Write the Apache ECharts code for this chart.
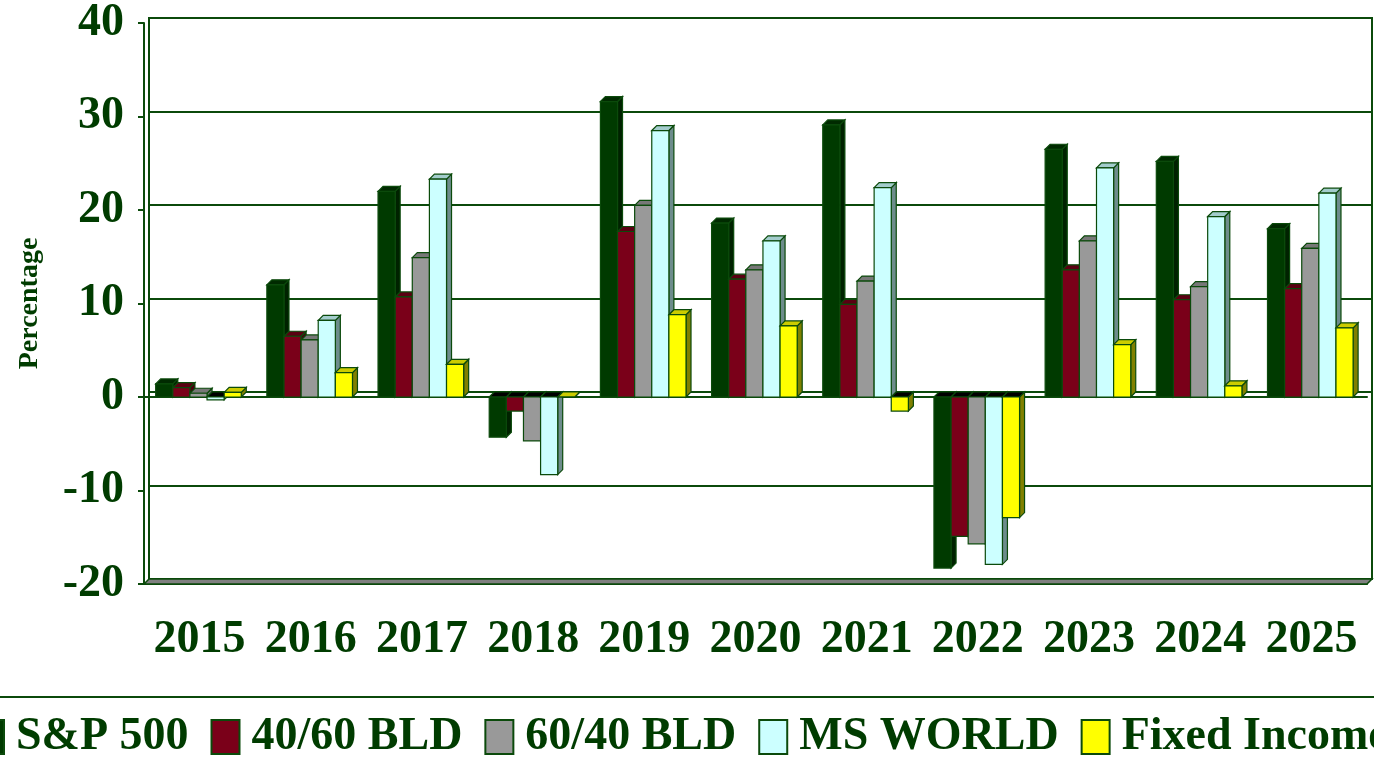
<!DOCTYPE html>
<html>
<head>
<meta charset="utf-8">
<script src="https://cdn.jsdelivr.net/npm/echarts@6/dist/echarts.min.js"></script>
<style>
  html, body { margin: 0; padding: 0; background: #fff; }
  #chart { width: 1374px; height: 759px; }
</style>
</head>
<body>
<div id="chart"></div>
<script>
// values (percent per year)
var years = ['2015', '2016', '2017', '2018', '2019', '2020', '2021', '2022', '2023', '2024', '2025'];
var sp500 = [1.4, 12.0, 22.0, -4.3, 31.6, 18.6, 29.1, -18.3, 26.5, 25.2, 18.0];
var bld4060 = [1.0, 6.5, 10.7, -1.5, 17.7, 12.6, 9.9, -14.9, 13.6, 10.4, 11.6];
var bld6040 = [0.4, 6.1, 14.9, -4.7, 20.5, 13.6, 12.4, -15.7, 16.7, 11.8, 15.9];
var msWorld = [-0.3, 8.2, 23.3, -8.3, 28.5, 16.7, 22.4, -17.9, 24.5, 19.3, 21.8];
var fixedIncome = [0.5, 2.6, 3.5, 0.0, 8.8, 7.6, -1.5, -12.9, 5.6, 1.2, 7.4];
var names = ['S&P 500', '40/60 BLD', '60/40 BLD', 'MS WORLD', 'Fixed Income'];
var yTicks = { min: -20, max: 40, step: 10 };

var GREEN = '#003c00';
var EDGE = '#0b4a0b';
var D = 5; // depth of the fake 3d
var FONT = '"Liberation Serif", "Times New Roman", serif';

var palettes = [
    { front: '#003a00', top: '#002a00', side: '#002200' },
    { front: '#7a0019', top: '#5a0012', side: '#4a000e' },
    { front: '#999999', top: '#777777', side: '#6e6e6e' },
    { front: '#ccffff', top: '#a3cccc', side: '#6d8c8c' },
    { front: '#ffff00', top: '#cccc00', side: '#808000' }
];
var allData = [sp500, bld4060, bld6040, msWorld, fixedIncome];

function barRenderer(idx, pal) {
    return function (params, api) {
        var cat = api.value(0), v = api.value(1);
        var base = api.coord([cat, 0]);
        var tip = api.coord([cat, v]);
        var bw = api.size([1, 0])[0];
        var w = bw * 0.154;
        var x = base[0] - bw / 2 + bw * 0.105 + idx * w;
        var ys = Math.min(base[1], tip[1]);
        var yb = Math.max(base[1], tip[1]);
        var line = { stroke: EDGE, lineWidth: 1.2 };
        return {
            type: 'group',
            children: [
                {
                    type: 'polygon',
                    shape: { points: [[x + w, ys], [x + w + D, ys - D], [x + w + D, yb - D], [x + w, yb]] },
                    style: Object.assign({ fill: pal.side }, line)
                },
                {
                    type: 'polygon',
                    shape: { points: [[x, ys], [x + D, ys - D], [x + w + D, ys - D], [x + w, ys]] },
                    style: Object.assign({ fill: v < 0 ? '#000000' : pal.top }, line)
                },
                {
                    type: 'rect',
                    shape: { x: x, y: ys, width: w, height: yb - ys },
                    style: Object.assign({ fill: pal.front }, line)
                }
            ]
        };
    };
}

function floorRenderer(params, api) {
    var cs = params.coordSys;
    var yb = cs.y + cs.height;
    return {
        type: 'polygon',
        shape: { points: [[cs.x, yb], [cs.x + D, yb - D], [cs.x + cs.width + D, yb - D], [cs.x + cs.width, yb]] },
        style: { fill: '#808080', stroke: EDGE, lineWidth: 1.5 }
    };
}

var series = [{
    type: 'custom',
    name: 'floor',
    xAxisIndex: 0,
    yAxisIndex: 0,
    z: 1,
    silent: true,
    renderItem: floorRenderer,
    data: [[0, yTicks.min]]
}];
for (var i = 0; i < names.length; i++) {
    series.push({
        type: 'custom',
        name: names[i],
        xAxisIndex: 0,
        yAxisIndex: 0,
        z: 3,
        itemStyle: { color: palettes[i].front, borderColor: EDGE, borderWidth: 2 },
        renderItem: barRenderer(i, palettes[i]),
        encode: { x: 0, y: 1 },
        data: allData[i].map(function (v, c) { return [c, v]; })
    });
}

var frontGrid = { left: 144, right: 7, top: 23, bottom: 175, outerBoundsMode: 'none', containLabel: false };

var myChart = echarts.init(document.getElementById('chart'));
var option = {
    backgroundColor: '#ffffff',
    animation: false,
    grid: [
        // front plane: bars, labels
        frontGrid,
        // back wall: gridlines
        { left: 149, right: 2, top: 18, bottom: 180, outerBoundsMode: 'none', containLabel: false,
          show: true, borderColor: EDGE, borderWidth: 2, backgroundColor: 'transparent' },
        // same as front, only for the axis line at zero
        frontGrid
    ],
    xAxis: [
        {
            gridIndex: 0, type: 'category', data: years, position: 'bottom',
            axisLine: { onZero: false, lineStyle: { color: EDGE, width: 2 } },
            axisTick: { length: 11, lineStyle: { color: EDGE, width: 2 } },
            axisLabel: { interval: 0, color: GREEN, fontFamily: FONT, fontWeight: 'bold', fontSize: 46, margin: 33 }
        },
        {
            gridIndex: 1, type: 'category', data: years, show: false
        },
        {
            gridIndex: 2, type: 'category', data: years, position: 'bottom',
            axisLine: { onZero: true, lineStyle: { color: EDGE, width: 2 } },
            axisTick: { length: 11, lineStyle: { color: EDGE, width: 2 } },
            axisLabel: { show: false }
        }
    ],
    yAxis: [
        {
            gridIndex: 0, type: 'value', min: yTicks.min, max: yTicks.max, interval: yTicks.step,
            name: 'Percentage', nameLocation: 'middle', nameRotate: 90, nameGap: 100,
            nameTextStyle: { color: GREEN, fontFamily: FONT, fontWeight: 'bold', fontSize: 28 },
            axisLine: { show: true, lineStyle: { color: EDGE, width: 2 } },
            axisTick: { show: true, length: 6, lineStyle: { color: EDGE, width: 2 } },
            splitLine: { show: false },
            axisLabel: { color: GREEN, fontFamily: FONT, fontWeight: 'bold', fontSize: 46, margin: 20 }
        },
        {
            gridIndex: 1, type: 'value', min: yTicks.min, max: yTicks.max, interval: yTicks.step,
            axisLine: { show: false },
            axisTick: { show: false },
            axisLabel: { show: false },
            splitLine: { show: true, lineStyle: { color: EDGE, width: 2 } }
        },
        {
            gridIndex: 2, type: 'value', min: yTicks.min, max: yTicks.max, interval: yTicks.step,
            show: false
        }
    ],
    legend: {
        data: names,
        left: -35,
        top: 697,
        width: 1700,
        orient: 'horizontal',
        icon: 'rect',
        itemWidth: 28,
        itemHeight: 34,
        itemGap: 22,
        padding: [17, 10, 60, 10],
        borderColor: EDGE,
        borderWidth: 2,
        itemStyle: { borderColor: EDGE, borderWidth: 2 },
        selectedMode: false,
        textStyle: { color: GREEN, fontFamily: FONT, fontWeight: 'bold', fontSize: 46, padding: [0, 0, 0, 7] }
    },
    series: series
};
myChart.setOption(option);
</script>
</body>
</html>
